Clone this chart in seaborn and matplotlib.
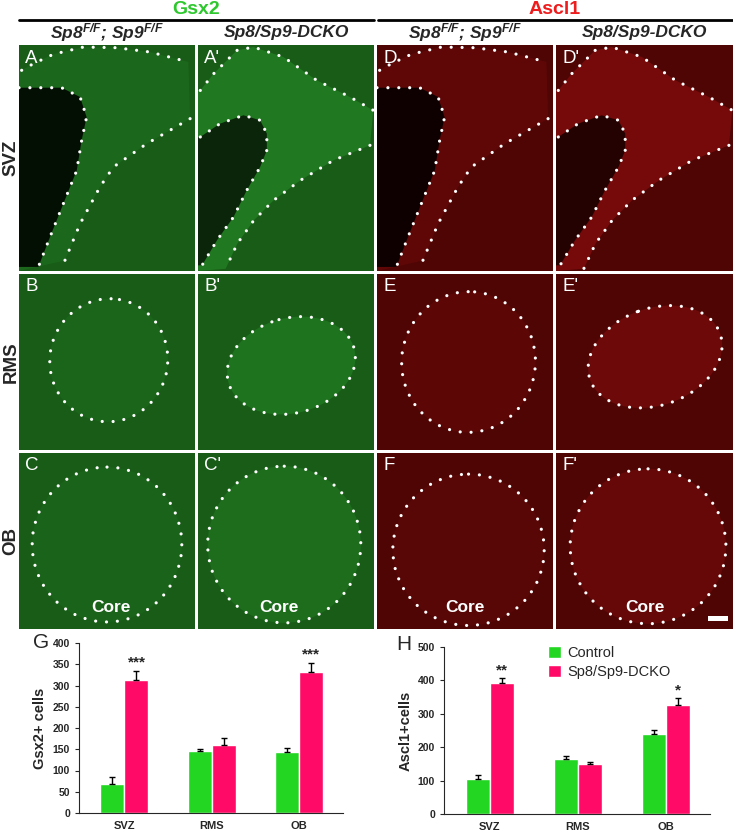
import numpy as np
import pandas as pd
import matplotlib
matplotlib.use("Agg")
import matplotlib.pyplot as plt
from matplotlib.patches import Ellipse, Polygon, Rectangle
import seaborn as sns

# bar chart data
regions = ["SVZ", "RMS", "OB"]
genotypes = ["Control", "Sp8/Sp9-DCKO"]

gsx2_ctrl = [68, 145, 143]
gsx2_ctrl_err = [17, 5, 11]
gsx2_dcko = [314, 161, 331]
gsx2_dcko_err = [21, 15, 23]
gsx2_stars = ["***", "", "***"]

ascl1_ctrl = [105, 164, 239]
ascl1_ctrl_err = [12, 10, 12]
ascl1_dcko = [391, 151, 327]
ascl1_dcko_err = [17, 4, 19]
ascl1_stars = ["**", "", "*"]

row_labels = ["SVZ", "RMS", "OB"]
panel_letters = [["A", "A'", "D", "D'"],
                 ["B", "B'", "E", "E'"],
                 ["C", "C'", "F", "F'"]]

GREEN = "#22d622"
PINK = "#ff0a66"

sns.set_style("ticks")
plt.rcParams["font.family"] = ["Liberation Sans", "DejaVu Sans"]
plt.rcParams["mathtext.fontset"] = "custom"
plt.rcParams["mathtext.rm"] = "Liberation Sans:italic:bold"
plt.rcParams["mathtext.it"] = "Liberation Sans:italic:bold"
plt.rcParams["mathtext.bf"] = "Liberation Sans:italic:bold"

W, H = 733, 831
fig = plt.figure(figsize=(W / 100, H / 100), dpi=100)
fig.patch.set_facecolor("white")


def px_axes(x0, y0, x1, y1):
    return fig.add_axes([x0 / W, 1 - y1 / H, (x1 - x0) / W, (y1 - y0) / H])


def dotted(ax, pts, lw=2.3):
    pts = np.array(pts)
    ax.plot(pts[:, 0], pts[:, 1], color="white", lw=lw,
            linestyle=(0, (0.01, 3.4)), dash_capstyle="round", zorder=5)


# ---- headers ----
fig.text(196 / W, 1 - 9 / H, "Gsx2", color="#2ec82e", fontsize=14,
         fontweight="bold", ha="center", va="center")
fig.text(555 / W, 1 - 9 / H, "Ascl1", color="#ee1c1c", fontsize=14,
         fontweight="bold", ha="center", va="center")
fig.add_artist(plt.Line2D([19 / W, 374 / W], [1 - 20 / H] * 2, color="black", lw=2))
fig.add_artist(plt.Line2D([378 / W, 733 / W], [1 - 20 / H] * 2, color="black", lw=2))

col_x = [(19, 195), (198, 374), (377, 553), (556, 733)]
row_y = [(45, 271), (274, 450), (453, 629)]

for j, (x0, x1) in enumerate(col_x):
    lab = r"$Sp8^{F/F}$; $Sp9^{F/F}$" if j % 2 == 0 else r"Sp8/Sp9-DCKO"
    fig.text((x0 + x1) / 2 / W, 1 - 33 / H, lab, fontsize=12.5,
             fontweight="bold", style="italic", ha="center", va="center")

for i, (y0, y1) in enumerate(row_y):
    fig.text(11 / W, 1 - (y0 + y1) / 2 / H, row_labels[i], rotation=90,
             fontsize=13.5, fontweight="bold", ha="center", va="center")

# ---- shapes for the staining panels ----
svz_shapes = {
    "ctrl": {
        "top": [(0.015, 0.112), (0.081, 0.083), (0.195, 0.041), (0.366, 0.009),
                (0.555, 0.012), (0.744, 0.031), (0.962, 0.075)],
        "low": [(0.972, 0.326), (0.725, 0.437), (0.536, 0.540), (0.460, 0.628),
                (0.347, 0.791), (0.261, 0.953)],
        "vent": [(0.0, 0.189), (0.242, 0.189), (0.347, 0.230), (0.384, 0.319),
                 (0.356, 0.422), (0.328, 0.555), (0.252, 0.702), (0.176, 0.850),
                 (0.110, 0.982)],
    },
    "dcko": {
        "top": [(0.013, 0.201), (0.089, 0.127), (0.221, 0.024), (0.315, 0.009),
                (0.485, 0.053), (0.674, 0.156), (0.863, 0.230), (0.996, 0.289)],
        "low": [(0.977, 0.444), (0.770, 0.510), (0.581, 0.599), (0.430, 0.687),
                (0.317, 0.776), (0.223, 0.879), (0.157, 0.990)],
        "vent": [(0.013, 0.407), (0.125, 0.348), (0.258, 0.311), (0.353, 0.333),
                 (0.391, 0.392), (0.391, 0.466), (0.353, 0.540), (0.277, 0.643),
                 (0.202, 0.761), (0.108, 0.864), (0.023, 0.975)],
    },
}

# (cx, cy, w, h, angle) for the RMS / OB outlines
rms_ell = [(0.51, 0.49, 0.67, 0.70, 10), (0.53, 0.52, 0.74, 0.54, -15),
           (0.52, 0.50, 0.76, 0.80, 5), (0.56, 0.47, 0.78, 0.55, -20)]
ob_ell = [(0.50, 0.52, 0.85, 0.88, 0), (0.49, 0.52, 0.87, 0.89, 0),
          (0.52, 0.55, 0.86, 0.86, 0), (0.52, 0.53, 0.88, 0.88, 0)]
core_x = [0.52, 0.46, 0.50, 0.50]

bg = {"g": "#185c18", "r": "#500505"}
glow = {"g": "#3ee03e", "r": "#ff2020"}
dark = {"g": "#030a03", "r": "#0a0000"}

for i, (y0, y1) in enumerate(row_y):
    for j, (x0, x1) in enumerate(col_x):
        ch = "g" if j < 2 else "r"
        mutant = j % 2 == 1
        ax = px_axes(x0, y0, x1, y1)
        ax.set_xlim(0, 1)
        ax.set_ylim(1, 0)
        ax.set_xticks([])
        ax.set_yticks([])
        for s in ax.spines.values():
            s.set_visible(False)
        ax.set_facecolor(bg[ch])
        alpha_glow = 0.22 if mutant else 0.09

        if i == 0:
            shp = svz_shapes["dcko" if mutant else "ctrl"]
            band = shp["top"] + shp["low"] + [(0.0, 1.0), (0.0, shp["top"][0][1])]
            ax.add_patch(Polygon(band, closed=True, color=glow[ch],
                                 alpha=alpha_glow, lw=0))
            vent = shp["vent"] + [(0.0, shp["vent"][-1][1]), (0.0, shp["vent"][0][1])]
            ax.add_patch(Polygon(vent, closed=True, color=dark[ch], lw=0,
                                 alpha=0.75 if mutant else 0.95, zorder=3))
            dotted(ax, shp["top"])
            dotted(ax, shp["low"])
            dotted(ax, shp["vent"])
        else:
            cx, cy, w, h, ang = (rms_ell if i == 1 else ob_ell)[j]
            ax.add_patch(Ellipse((cx, cy), w, h, angle=ang, color=glow[ch],
                                 alpha=alpha_glow * (0.8 if i == 1 else 0.6), lw=0))
            ax.add_patch(Ellipse((cx, cy), w, h, angle=ang, fill=False,
                                 edgecolor="white", lw=2.3,
                                 linestyle=(0, (0.01, 3.4)), capstyle="round",
                                 zorder=5))
            if i == 2:
                ax.text(core_x[j], 0.875, "Core", color="white", fontsize=12.5,
                        fontweight="bold", ha="center", va="center", zorder=6)
        ax.text(0.035, 0.02, panel_letters[i][j], color="white", fontsize=13.5,
                ha="left", va="top", zorder=6)
        if i == 2 and j == 3:
            ax.add_patch(Rectangle((0.86, 0.925), 0.11, 0.03, color="white",
                                   lw=0, zorder=6))


# ---- bar charts ----
def bar_panel(ax, ctrl, ctrl_err, dcko, dcko_err, stars, ymax, ystep,
              ylabel, show_legend, star_pad):
    df = pd.DataFrame({
        "region": regions * 2,
        "genotype": [genotypes[0]] * 3 + [genotypes[1]] * 3,
        "cells": ctrl + dcko,
    })
    sns.barplot(data=df, x="region", y="cells", hue="genotype",
                palette=[GREEN, PINK], width=0.55, errorbar=None,
                saturation=1, ax=ax, legend=show_legend)
    for cont, errs in zip(ax.containers, [ctrl_err, dcko_err]):
        for bar, e in zip(cont, errs):
            xc = bar.get_x() + bar.get_width() / 2
            ax.errorbar(xc, bar.get_height(), yerr=[[0], [e]], color="black",
                        lw=1, capsize=2, capthick=1)
    for k, s in enumerate(stars):
        if s:
            bar = ax.containers[1][k]
            ax.text(bar.get_x() + bar.get_width() / 2,
                    bar.get_height() + dcko_err[k] + star_pad, s,
                    ha="center", va="bottom", fontsize=11, fontweight="bold")
    ax.set_ylim(0, ymax)
    ax.set_xlim(-0.52, 2.5)
    ax.set_yticks(np.arange(0, ymax + 1, ystep))
    ax.set_xlabel("")
    ax.set_ylabel(ylabel, fontsize=10.5, fontweight="bold")
    ax.tick_params(axis="x", length=0, labelsize=8, pad=6)
    ax.tick_params(axis="y", length=3, labelsize=7.5)
    for t in ax.get_xticklabels() + ax.get_yticklabels():
        t.set_fontweight("bold")
    sns.despine(ax=ax)


ax_g = px_axes(79, 643, 343, 813)
bar_panel(ax_g, gsx2_ctrl, gsx2_ctrl_err, gsx2_dcko, gsx2_dcko_err,
          gsx2_stars, 400, 50, "Gsx2+ cells", False, 2)
fig.text(33 / W, 1 - 642 / H, "G", fontsize=15, ha="left", va="center")

ax_h = px_axes(444, 647, 710, 814)
bar_panel(ax_h, ascl1_ctrl, ascl1_ctrl_err, ascl1_dcko, ascl1_dcko_err,
          ascl1_stars, 500, 100, "Ascl1+cells", True, 2)
ax_h.legend(loc="upper left", bbox_to_anchor=(0.37, 1.04), frameon=False,
            fontsize=10.5, handlelength=0.9, handleheight=0.9, handletextpad=0.4,
            labelspacing=0.3, borderaxespad=0)
fig.text(396 / W, 1 - 645 / H, "H", fontsize=15, ha="left", va="center")

fig.savefig("out.png", dpi=100)
